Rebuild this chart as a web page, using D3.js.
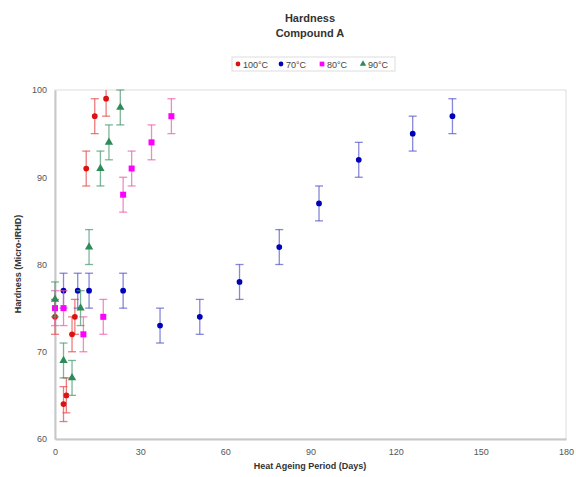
<!DOCTYPE html>
<html><head><meta charset="utf-8">
<script src="https://cdn.jsdelivr.net/npm/d3@7"></script>
<style>body{margin:0;background:#fff}svg{display:block}text{font-family:Arial,"Liberation Sans",sans-serif}</style>
</head><body><svg id="c" width="576" height="477"></svg>
<script>
const xTicks=[0,30,60,90,120,150,180];
const yTicks=[60,70,80,90,100];
const errSize=2;
const s100x=[0,3,4,6,7,11,14,18];
const s100y=[74,64,65,72,74,91,97,99];
const s70x=[3,8,12,24,37,51,65,79,93,107,126,140];
const s70y=[77,77,77,77,73,74,78,82,87,92,95,97];
const s80x=[0,3,10,17,24,27,34,41];
const s80y=[75,75,72,74,88,91,94,97];
const s90x=[0,3,6,9,12,16,19,23];
const s90y=[76,69,67,75,82,91,94,98];
const seriesNames=["100°C","70°C","80°C","90°C"];

const series=[
 {name:seriesNames[0],xs:s100x,ys:s100y,col:"#dd1111",err:"rgba(230,80,80,0.75)",shape:"circle"},
 {name:seriesNames[1],xs:s70x,ys:s70y,col:"#0000bb",err:"rgba(70,70,200,0.65)",shape:"circle"},
 {name:seriesNames[2],xs:s80x,ys:s80y,col:"#ff00ff",err:"rgba(235,90,170,0.7)",shape:"square"},
 {name:seriesNames[3],xs:s90x,ys:s90y,col:"#2e8b57",err:"rgba(70,150,110,0.7)",shape:"triangle"}
];
const svg=d3.select("#c");
const L=55,R=566,T=90,B=439;
const x=d3.scaleLinear().domain([0,180]).range([L,R]);
const y=d3.scaleLinear().domain([60,100]).range([B,T]);

// plot border
svg.append("rect").attr("x",L).attr("y",T).attr("width",R-L).attr("height",B-T)
 .attr("fill","none").attr("stroke","#ddd").attr("stroke-width",1);

const xa=svg.append("g").attr("transform",`translate(0,${B})`)
 .call(d3.axisBottom(x).tickValues(xTicks).tickSize(0).tickPadding(10));
const ya=svg.append("g").attr("transform",`translate(${L},0)`)
 .call(d3.axisLeft(y).tickValues(yTicks).tickSize(0).tickPadding(8));
[xa,ya].forEach(a=>{a.select(".domain").attr("stroke","#c8c8c8").attr("stroke-width",2);
 a.selectAll("text").attr("font-size",9).attr("fill","#555");});

const g=svg.append("g");
series.forEach(s=>{
 const pts=s.xs.map((v,i)=>({x:v,y:s.ys[i]}));
 const eg=g.append("g").attr("stroke",s.err).attr("stroke-width",1.3);
 pts.forEach(p=>{
  const cx=x(p.x),y1=y(Math.min(100,p.y+errSize)),y2=y(p.y-errSize);
  eg.append("line").attr("x1",cx).attr("x2",cx).attr("y1",y1).attr("y2",y2);
  if(p.y+errSize<=100) eg.append("line").attr("x1",cx-4).attr("x2",cx+4).attr("y1",y1).attr("y2",y1);
  eg.append("line").attr("x1",cx-4).attr("x2",cx+4).attr("y1",y2).attr("y2",y2);
 });
 const sym=s.shape==="circle"?d3.symbolCircle:s.shape==="square"?d3.symbolSquare:d3.symbolTriangle;
 const size=s.shape==="square"?36:s.shape==="triangle"?30:26;
 g.append("g").selectAll("path").data(pts).join("path")
  .attr("d",d3.symbol().type(sym).size(size))
  .attr("transform",d=>`translate(${x(d.x)},${y(d.y)})`).attr("fill",s.col);
});

// titles
svg.append("text").attr("x",310).attr("y",22).attr("text-anchor","middle").attr("font-size",11).attr("font-weight","bold").attr("fill","#333").text("Hardness");
svg.append("text").attr("x",310).attr("y",37).attr("text-anchor","middle").attr("font-size",11).attr("font-weight","bold").attr("fill","#333").text("Compound A");
svg.append("text").attr("x",310).attr("y",469).attr("text-anchor","middle").attr("font-size",9).attr("font-weight","bold").attr("fill","#333").text("Heat Ageing Period (Days)");
svg.append("text").attr("transform","translate(21,264) rotate(-90)").attr("text-anchor","middle").attr("font-size",9).attr("font-weight","bold").attr("fill","#333").text("Hardness (Micro-IRHD)");

// legend
const lg=svg.append("g");
lg.append("rect").attr("x",232).attr("y",57).attr("width",163).attr("height",14).attr("fill","#fff").attr("stroke","#ddd");
const lx=[238,281,322,363];
series.forEach((s,i)=>{
 const sym=s.shape==="circle"?d3.symbolCircle:s.shape==="square"?d3.symbolSquare:d3.symbolTriangle;
 lg.append("path").attr("d",d3.symbol().type(sym).size(s.shape==="square"?22:18)).attr("transform",`translate(${lx[i]},64)`).attr("fill",s.col);
 lg.append("text").attr("x",lx[i]+5).attr("y",67.5).attr("font-size",9).attr("fill","#444").text(s.name);
});
</script></body></html>
